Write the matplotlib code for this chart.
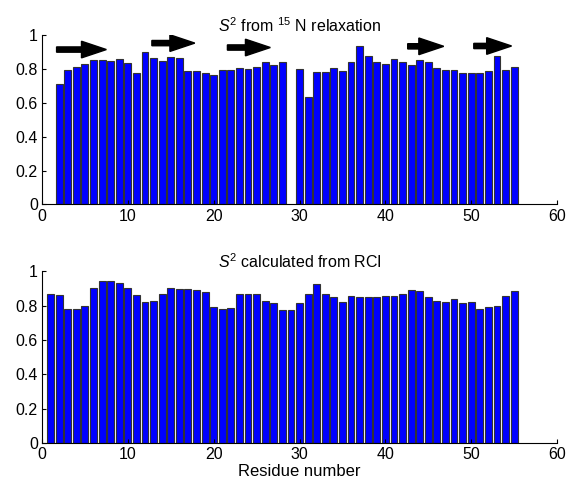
import numpy as np
import matplotlib
matplotlib.use('Agg')
import matplotlib.pyplot as plt

plt.rcParams['font.family'] = ['Liberation Sans', 'DejaVu Sans']
plt.rcParams['mathtext.fontset'] = 'custom'
plt.rcParams['mathtext.rm'] = 'Liberation Sans'
plt.rcParams['mathtext.it'] = 'Liberation Sans:italic'

# S2 from 15N relaxation (residue 29 missing)
res_nmr = list(range(2, 29)) + list(range(30, 56))
s2_nmr = [0.708, 0.792, 0.812, 0.825, 0.853, 0.853, 0.847, 0.859, 0.833, 0.773,
          0.896, 0.863, 0.843, 0.871, 0.861, 0.786, 0.784, 0.775, 0.761, 0.794,
          0.794, 0.806, 0.796, 0.810, 0.841, 0.820, 0.837,
          0.800, 0.635, 0.778, 0.778, 0.804, 0.788, 0.837, 0.935, 0.876, 0.837,
          0.825, 0.855, 0.837, 0.820, 0.853, 0.841, 0.806, 0.794, 0.792, 0.775,
          0.775, 0.775, 0.784, 0.875, 0.794, 0.812]

# S2 calculated from RCI
res_rci = list(range(1, 56))
s2_rci = [0.866, 0.860, 0.781, 0.779, 0.800, 0.901, 0.942, 0.940, 0.934, 0.905,
          0.862, 0.821, 0.829, 0.866, 0.905, 0.899, 0.897, 0.891, 0.876, 0.794,
          0.779, 0.786, 0.866, 0.866, 0.866, 0.829, 0.816, 0.777, 0.777, 0.812,
          0.870, 0.928, 0.868, 0.847, 0.823, 0.858, 0.847, 0.850, 0.852, 0.858,
          0.858, 0.866, 0.893, 0.887, 0.852, 0.829, 0.819, 0.837, 0.817, 0.819,
          0.779, 0.790, 0.800, 0.858, 0.885]

# beta strands (start, end, height) shown as arrows
strand_start = [1.7, 12.8, 21.6, 42.6, 50.3]
strand_end = [7.5, 17.8, 26.6, 46.8, 54.7]
strand_y = [0.912, 0.950, 0.924, 0.931, 0.933]

fig = plt.figure(figsize=(5.66, 4.84), dpi=100)
ax1 = fig.add_axes([0.0742, 0.5775, 0.910, 0.351])
ax2 = fig.add_axes([0.0742, 0.0847, 0.910, 0.355])

for ax, x, y in [(ax1, res_nmr, s2_nmr), (ax2, res_rci, s2_rci)]:
    ax.bar(x, y, width=0.8, color='#0000ff', edgecolor='#333333', linewidth=0.8)
    ax.set_xlim(0, 60)
    ax.set_ylim(0, 1)
    ax.set_xticks(np.arange(0, 61, 10))
    ax.set_yticks([0, 0.2, 0.4, 0.6, 0.8, 1])
    ax.set_yticklabels(['0', '0.2', '0.4', '0.6', '0.8', '1'])
    ax.spines['top'].set_visible(False)
    ax.spines['right'].set_visible(False)
    ax.tick_params(direction='in', length=3, labelsize=11.5, pad=3)

for x0, x1, yy in zip(strand_start, strand_end, strand_y):
    ax1.arrow(x0, yy, x1 - x0, 0, width=0.031, head_width=0.098,
              head_length=2.9, length_includes_head=True, color='black')

ax1.set_title(r'$S^2$ from $^{15}$ N relaxation', fontsize=11.5, pad=2)
ax2.set_title(r'$S^2$ calculated from RCI', fontsize=11.5, pad=-1)
ax2.set_xlabel('Residue number', fontsize=12, labelpad=1)

fig.savefig('out.png', dpi=100)
